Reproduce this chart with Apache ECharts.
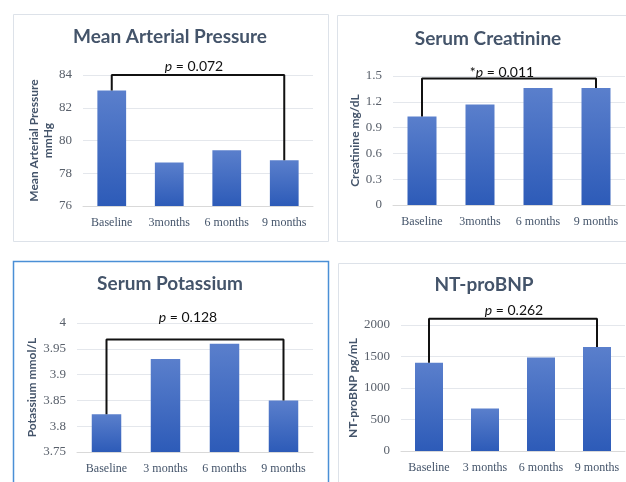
<!DOCTYPE html>
<html>
<head>
<meta charset="utf-8">
<script src="https://cdn.jsdelivr.net/npm/echarts@6/dist/echarts.min.js"></script>
<style>
  html, body { margin: 0; padding: 0; background: #fff; }
  #main { width: 626px; height: 482px; }
</style>
</head>
<body>
<div id="main"></div>
<script>
// categories (panel 1 and 2 use "3months" without space)
var catsTop = ["Baseline", "3months", "6 months", "9 months"];
var catsBottom = ["Baseline", "3 months", "6 months", "9 months"];

// values
var mapValues = [83.05, 78.65, 79.4, 78.8];
var creatValues = [1.03, 1.17, 1.36, 1.36];
var potassiumValues = [3.823, 3.93, 3.96, 3.85];
var bnpValues = [1400, 675, 1485, 1650];

// bracket heights and p values
var bracketTops = [84, 1.47, 3.968, 2100];
var pTexts = ["0.072", "0.011", "0.128", "0.262"];
var pStars = ["", "*", "", ""];
var titles = ["Mean Arterial Pressure", "Serum Creatinine", "Serum Potassium", "NT-proBNP"];
var yNames = ["Mean Arterial Pressure\nmmHg", "Creatinine mg/dL", "Potassium mmol/L", "NT-proBNP pg/mL"];

var allValues = [mapValues, creatValues, potassiumValues, bnpValues];
var allCats = [catsTop, catsTop, catsBottom, catsBottom];

// layout of each panel
var grids = [
  { left: 83, top: 75, width: 230, height: 131 },
  { left: 393, top: 76, width: 232, height: 129 },
  { left: 77, top: 323, width: 236, height: 129 },
  { left: 401, top: 325, width: 224, height: 126 }
];
var yScales = [
  { min: 76, max: 84, interval: 2, gap: 24 },
  { min: 0, max: 1.5, interval: 0.3, gap: 25 },
  { min: 3.75, max: 4, interval: 0.05, gap: 33 },
  { min: 0, max: 2000, interval: 500, gap: 34 }
];
var titlePos = [[165, 22], [483, 24], [165, 269], [479, 270]];
var pPos = [[189, 54], [497, 60], [183, 305], [509, 298]];

var chart = echarts.init(document.getElementById("main"));

var titleColor = "#44546A";
var barColor = new echarts.graphic.LinearGradient(0, 0, 0, 1, [
  { offset: 0, color: "#5A7FCC" },
  { offset: 1, color: "#2D5BB8" }
]);

var option = {
  backgroundColor: "#fff",
  animation: false,
  title: [],
  grid: [],
  xAxis: [],
  yAxis: [],
  series: [],
  graphic: [
    // panel frames
    { type: "rect", shape: { x: 13.5, y: 14.5, width: 315, height: 227 }, style: { fill: "none", stroke: "#DDE2E9", lineWidth: 1 } },
    { type: "rect", shape: { x: 337.5, y: 15.5, width: 300, height: 226 }, style: { fill: "none", stroke: "#DDE2E9", lineWidth: 1 } },
    { type: "rect", shape: { x: 13.5, y: 261.5, width: 315, height: 230 }, style: { fill: "none", stroke: "#4A8FD6", lineWidth: 1.5 } },
    { type: "rect", shape: { x: 338.5, y: 263.5, width: 300, height: 230 }, style: { fill: "none", stroke: "#DDE2E9", lineWidth: 1 } }
  ]
};

for (var i = 0; i < 4; i++) {
  option.title.push({
    text: titles[i],
    left: titlePos[i][0],
    top: titlePos[i][1],
    textAlign: "center",
    textStyle: { fontFamily: "Lato", fontWeight: "bold", fontSize: 19, color: titleColor }
  });
  option.title.push({
    text: "{n|" + pStars[i] + "}{i|p}{n| = " + pTexts[i] + "}",
    left: pPos[i][0],
    top: pPos[i][1],
    textAlign: "center",
    textStyle: {
      fontWeight: "normal",
      rich: {
        n: { fontFamily: "Lato", fontWeight: "normal", fontSize: 14, color: "#111" },
        i: { fontFamily: "Lato", fontWeight: "normal", fontStyle: "italic", fontSize: 14, color: "#111" }
      }
    }
  });
  option.grid.push(grids[i]);
  option.xAxis.push({
    type: "category",
    gridIndex: i,
    data: allCats[i],
    axisTick: { show: false },
    axisLine: { lineStyle: { color: "#D9D9D9" } },
    axisLabel: { interval: 0, fontFamily: "Liberation Serif", fontSize: 12, color: titleColor, margin: 11 }
  });
  option.yAxis.push({
    type: "value",
    gridIndex: i,
    min: yScales[i].min,
    max: yScales[i].max,
    interval: yScales[i].interval,
    name: yNames[i],
    nameLocation: "middle",
    nameGap: yScales[i].gap,
    nameTextStyle: { fontFamily: "Lato", fontWeight: "bold", fontSize: 12, color: titleColor, lineHeight: 14 },
    axisLine: { show: false },
    axisTick: { show: false },
    splitLine: { lineStyle: { color: "#E4E7EC" } },
    axisLabel: {
      fontFamily: "Liberation Serif", fontSize: 13, color: "#59606B", margin: 11,
      formatter: function (val) { return String(val); }
    }
  });
  option.series.push({
    type: "bar",
    xAxisIndex: i,
    yAxisIndex: i,
    barWidth: "50%",
    itemStyle: { color: barColor },
    data: allValues[i]
  });
  var v = allValues[i];
  option.series.push({
    type: "line",
    xAxisIndex: i,
    yAxisIndex: i,
    clip: false,
    symbol: "none",
    lineStyle: { color: "#111", width: 2 },
    data: [[0, v[0]], [0, bracketTops[i]], [3, bracketTops[i]], [3, v[3]]]
  });
}

chart.setOption(option);
</script>
</body>
</html>
